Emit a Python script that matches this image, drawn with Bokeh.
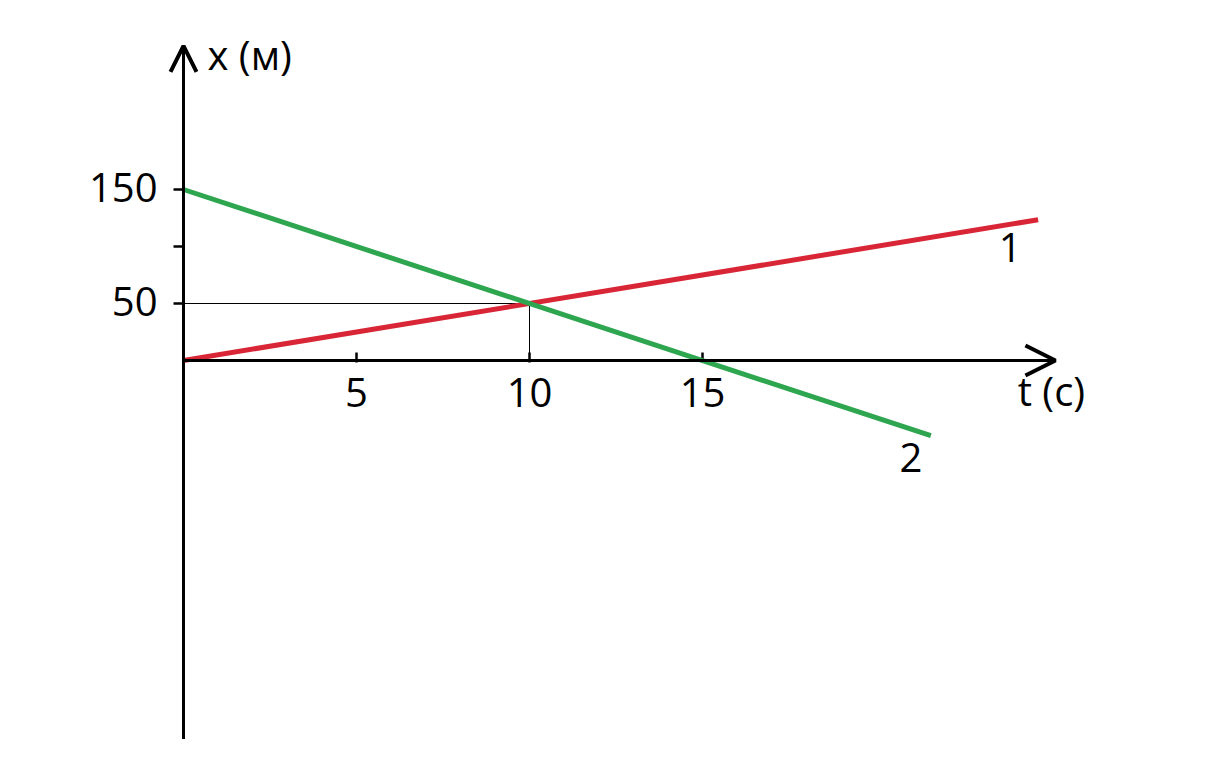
from bokeh.plotting import figure
from bokeh.models import Range1d, Arrow, OpenHead
from bokeh.core.properties import value
from bokeh.embed import file_html
from bokeh.resources import INLINE

# ---- data ----
t1 = [0, 24.7]          # line 1 (red): x = 5 t
x1 = [0, 123.5]
t2 = [0, 21.6]          # line 2 (green): x = 150 - 10 t
x2 = [150, -66]
x_ticks = [5, 10, 15]
x_tick_labels = ["5", "10", "15"]
y_ticks = [50, 100, 150]
y_tick_labels = ["50", "", "150"]
meet_t = [10]
meet_x = [50]
line_names = ["1", "2"]
t_axis_end = 25.2
x_axis_top = 276
x_axis_bottom = -332

# pixel scales (px per unit)
SX = 34.6
SY = 1.14
W, H = 1192, 744
OX, OY = 183, 360   # origin inside the frame

p = figure(width=W, height=H,
           x_range=Range1d(-OX / SX, (W - OX) / SX),
           y_range=Range1d(-(H - OY) / SY, OY / SY),
           x_axis_type=None, y_axis_type=None,
           toolbar_location=None, output_backend="svg",
           min_border=0, outline_line_color=None,
           background_fill_color="white", border_fill_color="white")
p.grid.visible = False

FONT = value("Open Sans")

# guide lines to the meeting point
p.segment(x0=[0], y0=meet_x, x1=meet_t, y1=meet_x, line_color="black", line_width=1)
p.segment(x0=meet_t, y0=[0], x1=meet_t, y1=meet_x, line_color="black", line_width=1)

# axes with arrows
p.add_layout(Arrow(x_start=0, y_start=0, x_end=t_axis_end, y_end=0,
                   line_color="black", line_width=3,
                   end=OpenHead(size=30, line_width=4, line_color="black")))
p.add_layout(Arrow(x_start=0, y_start=x_axis_bottom, x_end=0, y_end=x_axis_top,
                   line_color="black", line_width=3,
                   end=OpenHead(size=26, line_width=4, line_color="black")))

# tick marks
p.segment(x0=x_ticks, y0=[-2 / SY] * len(x_ticks), x1=x_ticks, y1=[8 / SY] * len(x_ticks),
          line_color="black", line_width=2.5)
p.segment(x0=[-10 / SX] * len(y_ticks), y0=y_ticks, x1=[0] * len(y_ticks), y1=y_ticks,
          line_color="black", line_width=2.5)

# tick labels
p.text(x=x_ticks, y=[0] * len(x_ticks), text=x_tick_labels, text_font=FONT,
       text_font_size="40px", text_align="center", text_baseline="top",
       y_offset=17, text_color="black")
p.text(x=[0] * len(y_ticks), y=y_ticks, text=y_tick_labels, text_font=FONT,
       text_font_size="40px", text_align="right", text_baseline="middle",
       x_offset=-26, y_offset=-2, text_color="black")

# lines
p.line(t1, x1, line_color="#D92636", line_width=5)
p.line(t2, x2, line_color="#2EA64F", line_width=5)

# line labels
p.text(x=[t1[-1], t2[-1]], y=[x1[-1], x2[-1]], text=line_names, text_font=FONT,
       text_font_size="40px", text_align="center", text_baseline="middle",
       x_offset=[-28, -20], y_offset=[28, 22], text_color="black")

# axis titles
p.text(x=[0], y=[x_axis_top], text=["x (м)"], text_font=FONT,
       text_font_size="40px", text_align="left", text_baseline="middle",
       x_offset=24, y_offset=9, text_color="black")
p.text(x=[t_axis_end], y=[0], text=["t (с)"], text_font=FONT,
       text_font_size="40px", text_align="center", text_baseline="top",
       x_offset=-4, y_offset=2, text_color="black")

open("out.html", "w").write(file_html(p, INLINE))
